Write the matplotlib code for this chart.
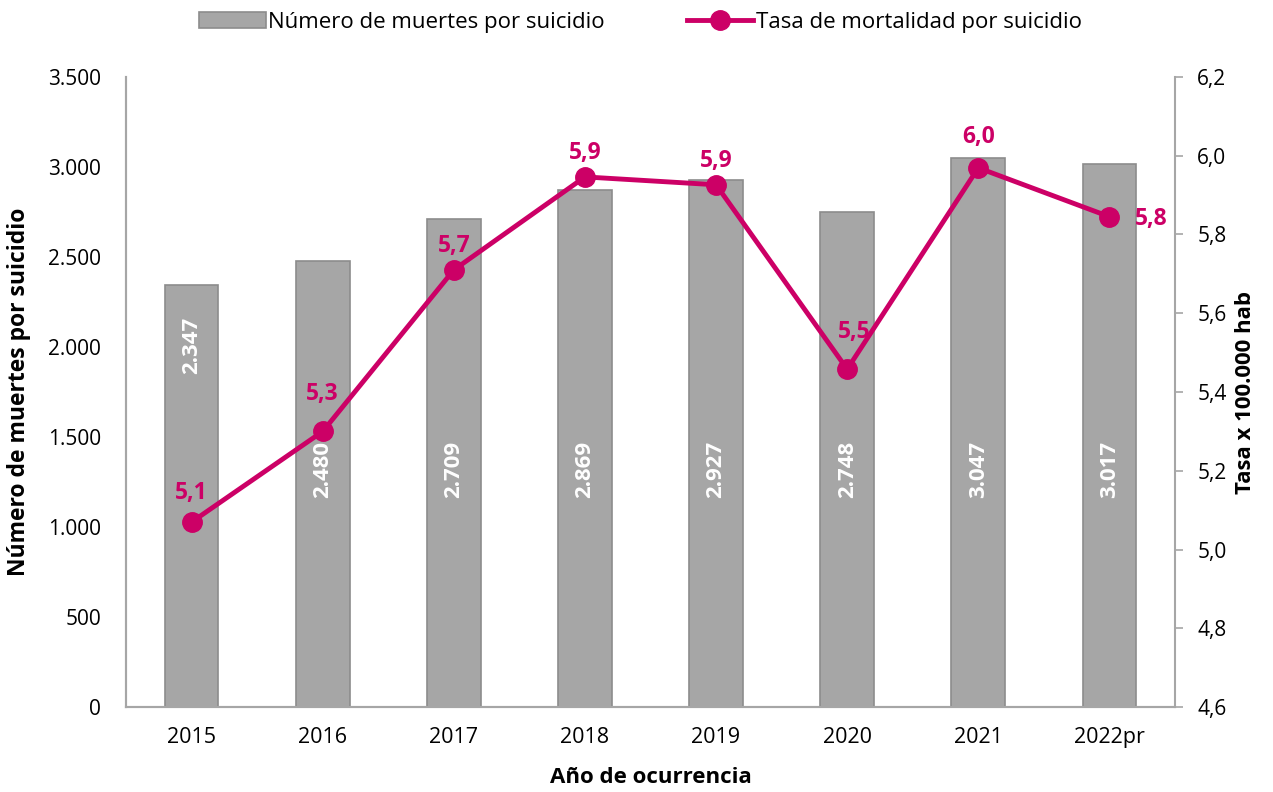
import matplotlib.pyplot as plt
from matplotlib.ticker import FuncFormatter, MultipleLocator

plt.rcParams["font.family"] = ["Open Sans", "DejaVu Sans"]

YEARS = ["2015", "2016", "2017", "2018", "2019", "2020", "2021", "2022pr"]
DEATHS = [2347, 2480, 2709, 2869, 2927, 2748, 3047, 3017]
RATE = [5.07, 5.30, 5.71, 5.946, 5.926, 5.458, 5.969, 5.845]

BAR_COLOR = "#A6A6A6"
BAR_EDGE = "#8C8C8C"
LINE_COLOR = "#CC0066"
AXIS_GRAY = "#A6A6A6"


def thousands(v, _pos):
    return f"{int(v):,}".replace(",", ".")


def comma1(v, _pos):
    return f"{v:.1f}".replace(".", ",")


fig = plt.figure(figsize=(12.73, 7.92), dpi=100)
ax = fig.add_axes([0.099, 0.107, 0.824, 0.796])
ax2 = ax.twinx()

x = range(len(YEARS))
bars = ax.bar(x, DEATHS, width=0.41, color=BAR_COLOR, edgecolor=BAR_EDGE,
              linewidth=1.2, label="Número de muertes por suicidio", zorder=2)
ax.set_ylim(0, 3500)
ax.set_xlim(-0.5, len(YEARS) - 0.5)
ax.yaxis.set_major_locator(MultipleLocator(500))
ax.yaxis.set_major_formatter(FuncFormatter(thousands))
ax.set_xticks(list(x))
ax.set_xticklabels(YEARS)
ax.tick_params(axis="x", length=0, labelsize=15.5, pad=14)
ax.tick_params(axis="y", length=0, labelsize=15, pad=18)
ax.set_xlabel("Año de ocurrencia", fontsize=16, fontweight="bold", labelpad=14)
ax.set_ylabel("Número de muertes por suicidio", fontsize=16.5, fontweight="bold", labelpad=12)

# bar value labels (white, vertical); the first one sits higher to clear the line
for i, (bar, val) in enumerate(zip(bars, DEATHS)):
    ypos = 2010 if i == 0 else 1320
    ax.text(bar.get_x() + bar.get_width() / 2, ypos, thousands(val, None),
            rotation=90, ha="center", va="center", color="white",
            fontsize=16, fontweight="bold", zorder=3)

ax2.plot(list(x), RATE, color=LINE_COLOR, linewidth=3.5, marker="o",
         markersize=14, label="Tasa de mortalidad por suicidio", zorder=4)
ax2.set_ylim(4.6, 6.2)
ax2.yaxis.set_major_locator(MultipleLocator(0.2))
ax2.yaxis.set_major_formatter(FuncFormatter(comma1))
ax2.tick_params(axis="y", length=6, width=1.2, color=AXIS_GRAY, labelsize=15, pad=10)
ax2.set_ylabel("Tasa x 100.000 hab", fontsize=16, fontweight="bold", labelpad=6)

offsets = [(0, 21), (0, 27), (0, 17), (0, 17), (0, 17), (5, 27), (0, 22), (30, -2)]
for i, (val, off) in enumerate(zip(RATE, offsets)):
    ax2.annotate(comma1(val, None), (i, val), xytext=off, textcoords="offset points",
                 ha="center", va="center",
                 color=LINE_COLOR, fontsize=16.5, fontweight="bold", zorder=5)

for a in (ax, ax2):
    a.spines["top"].set_visible(False)
    for side in ("left", "right", "bottom"):
        a.spines[side].set_color(AXIS_GRAY)
        a.spines[side].set_linewidth(1.5)
ax.set_zorder(ax2.get_zorder() - 1)
ax2.patch.set_visible(False)
ax.spines["right"].set_visible(False)

handles = [bars, ax2.get_lines()[0]]
fig.legend(handles, [h.get_label() for h in handles], loc="center",
           bbox_to_anchor=(0.503, 0.972), ncol=2, frameon=False, fontsize=16,
           handlelength=3.0, handletextpad=0.1, columnspacing=3.7)

fig.savefig("out.png", dpi=100)
